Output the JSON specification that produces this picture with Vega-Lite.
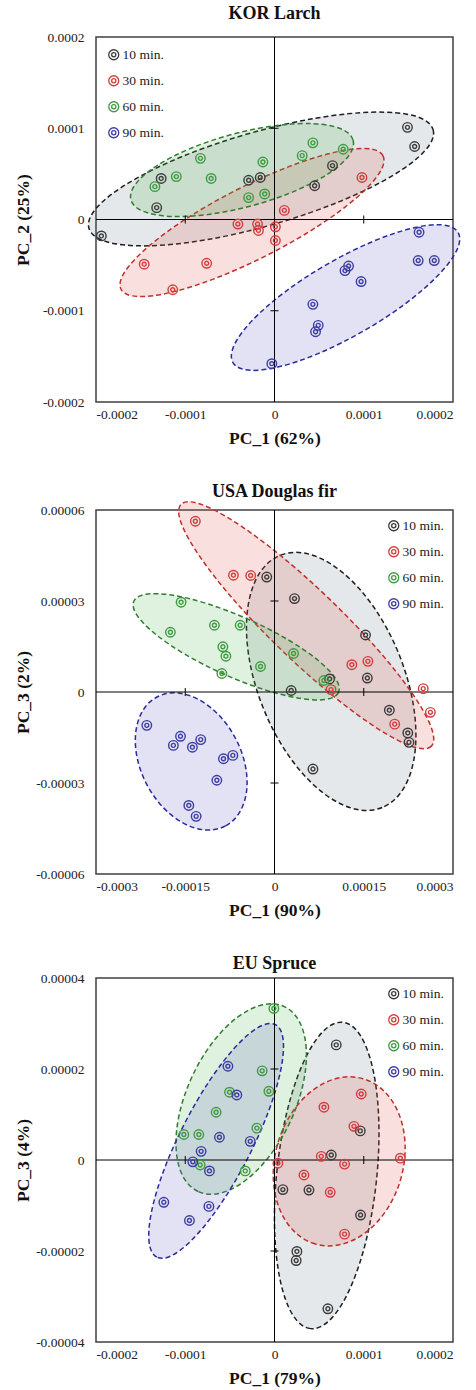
{
"$schema": "https://vega.github.io/schema/vega-lite/v6.json",
"background": "white",
"padding": {"left": 13, "top": 4, "right": 0, "bottom": 0},
"spacing": 34,
"resolve": {"scale": {"x": "independent", "y": "independent", "color": "independent"}, "legend": {"color": "independent"}},
"config": {
  "view": {"stroke": "#404040", "strokeWidth": 1.5},
  "title": {"font": "Liberation Serif", "fontSize": 18, "fontWeight": "bold", "color": "#111", "offset": -2, "anchor": "middle"},
  "axis": {"grid": false, "ticks": false, "domain": false, "labelFont": "Liberation Serif", "labelFontSize": 13.5, "labelColor": "#222", "titleFont": "Liberation Serif", "titleFontSize": 17.5, "titleFontWeight": "bold", "titleColor": "#111"},
  "axisX": {"labelPadding": 5, "titlePadding": 9},
  "axisY": {"labelPadding": 12, "titlePadding": 4, "minExtent": 60, "maxExtent": 60},
  "legend": {"labelFont": "Liberation Serif", "labelFontSize": 13.5, "labelColor": "#222", "rowPadding": 10, "labelOffset": 2, "padding": 0, "symbolSize": 100, "symbolStrokeWidth": 1.3}
},
"vconcat": [
{
  "title": {"text": "KOR Larch", "offset": 7},
  "width": 357, "height": 365,
  "layer": [
    {"data": {"values": [{"x": -0.0000151, "y": 0.0000444}]},
     "mark": {"type": "point", "shape": "M1,0C1,0.145 0.552,0.2626 0,0.2626C-0.552,0.2626 -1,0.145 -1,0C-1,-0.145 -0.552,-0.2626 0,-0.2626C0.552,-0.2626 1,-0.145 1,0Z", "size": 128164, "angle": 344, "filled": true, "fill": "#5d6d7e", "fillOpacity": 0.16, "stroke": "#1f1f1f", "strokeWidth": 1.5, "strokeDash": [5, 3], "opacity": 1},
     "encoding": {"x": {"field": "x", "type": "quantitative", "scale": {"domain": [-0.0002, 0.0002], "nice": false, "zero": false}}, "y": {"field": "y", "type": "quantitative", "scale": {"domain": [-0.0002, 0.0002], "nice": false, "zero": false}}}},
    {"data": {"values": [{"x": -0.0000252, "y": -0.0000033}]},
     "mark": {"type": "point", "shape": "M1,0C1,0.1353 0.552,0.2449 0,0.2449C-0.552,0.2449 -1,0.1353 -1,0C-1,-0.1353 -0.552,-0.2449 0,-0.2449C0.552,-0.2449 1,-0.1353 1,0Z", "size": 86436, "angle": 333, "filled": true, "fill": "#e0524f", "fillOpacity": 0.18, "stroke": "#c0302a", "strokeWidth": 1.5, "strokeDash": [5, 3], "opacity": 1},
     "encoding": {"x": {"field": "x", "type": "quantitative", "scale": {"domain": [-0.0002, 0.0002], "nice": false, "zero": false}}, "y": {"field": "y", "type": "quantitative", "scale": {"domain": [-0.0002, 0.0002], "nice": false, "zero": false}}}},
    {"data": {"values": [{"x": -0.0000364, "y": 0.0000542}]},
     "mark": {"type": "point", "shape": "M1,0C1,0.1777 0.552,0.3217 0,0.3217C-0.552,0.3217 -1,0.1777 -1,0C-1,-0.1777 -0.552,-0.3217 0,-0.3217C0.552,-0.3217 1,-0.1777 1,0Z", "size": 52900, "angle": 345, "filled": true, "fill": "#4caf50", "fillOpacity": 0.18, "stroke": "#2f7f2f", "strokeWidth": 1.5, "strokeDash": [5, 3], "opacity": 1},
     "encoding": {"x": {"field": "x", "type": "quantitative", "scale": {"domain": [-0.0002, 0.0002], "nice": false, "zero": false}}, "y": {"field": "y", "type": "quantitative", "scale": {"domain": [-0.0002, 0.0002], "nice": false, "zero": false}}}},
    {"data": {"values": [{"x": 0.0000796, "y": -0.0000855}]},
     "mark": {"type": "point", "shape": "M1,0C1,0.1614 0.552,0.2923 0,0.2923C-0.552,0.2923 -1,0.1614 -1,0C-1,-0.1614 -0.552,-0.2923 0,-0.2923C0.552,-0.2923 1,-0.1614 1,0Z", "size": 67600, "angle": 330, "filled": true, "fill": "#5c5cc0", "fillOpacity": 0.18, "stroke": "#2b2b9b", "strokeWidth": 1.5, "strokeDash": [5, 3], "opacity": 1},
     "encoding": {"x": {"field": "x", "type": "quantitative", "scale": {"domain": [-0.0002, 0.0002], "nice": false, "zero": false}}, "y": {"field": "y", "type": "quantitative", "scale": {"domain": [-0.0002, 0.0002], "nice": false, "zero": false}}}},
    {"data": {"values": [{"x": 0, "y": 0}]}, "mark": {"type": "rule", "color": "#000", "strokeWidth": 1},
     "encoding": {"x": {"field": "x", "type": "quantitative", "scale": {"domain": [-0.0002, 0.0002], "nice": false, "zero": false}}}},
    {"data": {"values": [{"x": 0, "y": 0}]}, "mark": {"type": "rule", "color": "#000", "strokeWidth": 1},
     "encoding": {"y": {"field": "y", "type": "quantitative", "scale": {"domain": [-0.0002, 0.0002], "nice": false, "zero": false}}}},
    {"data": {"values": [{"x": -0.0001, "y": 0}, {"x": 0.0001, "y": 0}]},
     "mark": {"type": "point", "shape": "M0,-1L0,1", "size": 64, "filled": false, "stroke": "#000", "strokeWidth": 1, "opacity": 1},
     "encoding": {"x": {"field": "x", "type": "quantitative", "scale": {"domain": [-0.0002, 0.0002], "nice": false, "zero": false}}, "y": {"field": "y", "type": "quantitative", "scale": {"domain": [-0.0002, 0.0002], "nice": false, "zero": false}}}},
    {"data": {"values": [{"x": 0, "y": -0.0001}, {"x": 0, "y": 0.0001}]},
     "mark": {"type": "point", "shape": "M-1,0L1,0", "size": 64, "filled": false, "stroke": "#000", "strokeWidth": 1, "opacity": 1},
     "encoding": {"x": {"field": "x", "type": "quantitative", "scale": {"domain": [-0.0002, 0.0002], "nice": false, "zero": false}}, "y": {"field": "y", "type": "quantitative", "scale": {"domain": [-0.0002, 0.0002], "nice": false, "zero": false}}}},
    {"data": {"values": [
      {"t": "10 min.", "x": -0.000194, "y": -0.000018}, {"t": "10 min.", "x": -0.000127, "y": 0.000045}, {"t": "10 min.", "x": -0.000132, "y": 0.000013}, {"t": "10 min.", "x": -0.000029, "y": 0.000043}, {"t": "10 min.", "x": -0.000016, "y": 0.000046}, {"t": "10 min.", "x": 0.000065, "y": 0.000059}, {"t": "10 min.", "x": 0.000045, "y": 0.000037}, {"t": "10 min.", "x": 0.000149, "y": 0.000101}, {"t": "10 min.", "x": 0.000157, "y": 0.00008},
      {"t": "30 min.", "x": -0.000041, "y": -0.000005}, {"t": "30 min.", "x": -0.000019, "y": -0.000005}, {"t": "30 min.", "x": -0.000018, "y": -0.000012}, {"t": "30 min.", "x": -0.000146, "y": -0.000049}, {"t": "30 min.", "x": -0.000076, "y": -0.000048}, {"t": "30 min.", "x": -0.000114, "y": -0.000077}, {"t": "30 min.", "x": 0.000001, "y": -0.000008}, {"t": "30 min.", "x": 0.000001, "y": -0.000023}, {"t": "30 min.", "x": 0.000011, "y": 0.00001}, {"t": "30 min.", "x": 0.000098, "y": 0.000046},
      {"t": "60 min.", "x": -0.000134, "y": 0.000036}, {"t": "60 min.", "x": -0.00011, "y": 0.000047}, {"t": "60 min.", "x": -0.000083, "y": 0.000067}, {"t": "60 min.", "x": -0.000071, "y": 0.000045}, {"t": "60 min.", "x": -0.000013, "y": 0.000063}, {"t": "60 min.", "x": -0.000029, "y": 0.000024}, {"t": "60 min.", "x": -0.000011, "y": 0.000028}, {"t": "60 min.", "x": 0.000043, "y": 0.000084}, {"t": "60 min.", "x": 0.000031, "y": 0.00007}, {"t": "60 min.", "x": 0.000077, "y": 0.000077},
      {"t": "90 min.", "x": 0.000162, "y": -0.000014}, {"t": "90 min.", "x": 0.000161, "y": -0.000045}, {"t": "90 min.", "x": 0.000179, "y": -0.000045}, {"t": "90 min.", "x": 0.000083, "y": -0.000051}, {"t": "90 min.", "x": 0.000079, "y": -0.000056}, {"t": "90 min.", "x": 0.000097, "y": -0.000068}, {"t": "90 min.", "x": 0.000043, "y": -0.000093}, {"t": "90 min.", "x": 0.000049, "y": -0.000116}, {"t": "90 min.", "x": 0.000046, "y": -0.000123}, {"t": "90 min.", "x": -0.000003, "y": -0.000158}
     ]},
     "mark": {"type": "point", "shape": "M1,0C1,0.552 0.552,1 0,1C-0.552,1 -1,0.552 -1,0C-1,-0.552 -0.552,-1 0,-1C0.552,-1 1,-0.552 1,0ZM0.42,0C0.42,0.232 0.232,0.42 0,0.42C-0.232,0.42 -0.42,0.232 -0.42,0C-0.42,-0.232 -0.232,-0.42 0,-0.42C0.232,-0.42 0.42,-0.232 0.42,0Z", "size": 90, "filled": false, "strokeWidth": 1.4, "opacity": 1},
     "encoding": {
       "x": {"field": "x", "type": "quantitative", "scale": {"domain": [-0.0002, 0.0002], "nice": false, "zero": false}, "axis": {"title": "PC_1 (62%)", "values": [-0.0002, -0.0001, 0, 0.0001, 0.0002], "labelExpr": "datum.value == 0 ? '0' : replace(format(datum.value, '~g'), '\u2212', '-')"}},
       "y": {"field": "y", "type": "quantitative", "scale": {"domain": [-0.0002, 0.0002], "nice": false, "zero": false}, "axis": {"title": "PC_2 (25%)", "values": [-0.0002, -0.0001, 0, 0.0001, 0.0002], "labelExpr": "datum.value == 0 ? '0' : replace(format(datum.value, '~g'), '\u2212', '-')"}},
       "color": {"field": "t", "type": "nominal", "scale": {"domain": ["10 min.", "30 min.", "60 min.", "90 min."], "range": ["#3b3b3b", "#d23c3c", "#3f9a3f", "#3b3ba3"]}, "legend": {"title": null, "orient": "top-left", "offset": 11, "symbolType": "M1,0C1,0.552 0.552,1 0,1C-0.552,1 -1,0.552 -1,0C-1,-0.552 -0.552,-1 0,-1C0.552,-1 1,-0.552 1,0ZM0.42,0C0.42,0.232 0.232,0.42 0,0.42C-0.232,0.42 -0.42,0.232 -0.42,0C-0.42,-0.232 -0.232,-0.42 0,-0.42C0.232,-0.42 0.42,-0.232 0.42,0Z"}}
     }}
  ]
},
{
  "title": {"text": "USA Douglas fir", "offset": -2},
  "width": 357, "height": 364,
  "layer": [
    {"data": {"values": [{"x": 0.0000953, "y": 0.0000035}]},
     "mark": {"type": "point", "shape": "M1,0C1,0.2965 0.552,0.5368 0,0.5368C-0.552,0.5368 -1,0.2965 -1,0C-1,-0.2965 -0.552,-0.5368 0,-0.5368C0.552,-0.5368 1,-0.2965 1,0Z", "size": 73984, "angle": 68, "filled": true, "fill": "#5d6d7e", "fillOpacity": 0.16, "stroke": "#1f1f1f", "strokeWidth": 1.5, "strokeDash": [5, 3], "opacity": 1},
     "encoding": {"x": {"field": "x", "type": "quantitative", "scale": {"domain": [-0.0003, 0.0003], "nice": false, "zero": false}}, "y": {"field": "y", "type": "quantitative", "scale": {"domain": [-0.00006, 0.00006], "nice": false, "zero": false}}}},
    {"data": {"values": [{"x": 0.0000533, "y": 0.000022}]},
     "mark": {"type": "point", "shape": "M1,0C1,0.1111 0.552,0.2011 0,0.2011C-0.552,0.2011 -1,0.1111 -1,0C-1,-0.1111 -0.552,-0.2011 0,-0.2011C0.552,-0.2011 1,-0.1111 1,0Z", "size": 121104, "angle": 44, "filled": true, "fill": "#e0524f", "fillOpacity": 0.18, "stroke": "#c0302a", "strokeWidth": 1.5, "strokeDash": [5, 3], "opacity": 1},
     "encoding": {"x": {"field": "x", "type": "quantitative", "scale": {"domain": [-0.0003, 0.0003], "nice": false, "zero": false}}, "y": {"field": "y", "type": "quantitative", "scale": {"domain": [-0.00006, 0.00006], "nice": false, "zero": false}}}},
    {"data": {"values": [{"x": -0.0000644, "y": 0.0000149}]},
     "mark": {"type": "point", "shape": "M1,0C1,0.148 0.552,0.2679 0,0.2679C-0.552,0.2679 -1,0.148 -1,0C-1,-0.148 -0.552,-0.2679 0,-0.2679C0.552,-0.2679 1,-0.148 1,0Z", "size": 50176, "angle": 24, "filled": true, "fill": "#4caf50", "fillOpacity": 0.18, "stroke": "#2f7f2f", "strokeWidth": 1.5, "strokeDash": [5, 3], "opacity": 1},
     "encoding": {"x": {"field": "x", "type": "quantitative", "scale": {"domain": [-0.0003, 0.0003], "nice": false, "zero": false}}, "y": {"field": "y", "type": "quantitative", "scale": {"domain": [-0.00006, 0.00006], "nice": false, "zero": false}}}},
    {"data": {"values": [{"x": -0.00014, "y": -0.0000229}]},
     "mark": {"type": "point", "shape": "M1,0C1,0.3783 0.552,0.6849 0,0.6849C-0.552,0.6849 -1,0.3783 -1,0C-1,-0.3783 -0.552,-0.6849 0,-0.6849C0.552,-0.6849 1,-0.3783 1,0Z", "size": 21316, "angle": 62, "filled": true, "fill": "#5c5cc0", "fillOpacity": 0.18, "stroke": "#2b2b9b", "strokeWidth": 1.5, "strokeDash": [5, 3], "opacity": 1},
     "encoding": {"x": {"field": "x", "type": "quantitative", "scale": {"domain": [-0.0003, 0.0003], "nice": false, "zero": false}}, "y": {"field": "y", "type": "quantitative", "scale": {"domain": [-0.00006, 0.00006], "nice": false, "zero": false}}}},
    {"data": {"values": [{"x": 0, "y": 0}]}, "mark": {"type": "rule", "color": "#000", "strokeWidth": 1},
     "encoding": {"x": {"field": "x", "type": "quantitative", "scale": {"domain": [-0.0003, 0.0003], "nice": false, "zero": false}}}},
    {"data": {"values": [{"x": 0, "y": 0}]}, "mark": {"type": "rule", "color": "#000", "strokeWidth": 1},
     "encoding": {"y": {"field": "y", "type": "quantitative", "scale": {"domain": [-0.00006, 0.00006], "nice": false, "zero": false}}}},
    {"data": {"values": [{"x": -0.00015, "y": 0}, {"x": 0.00015, "y": 0}]},
     "mark": {"type": "point", "shape": "M0,-1L0,1", "size": 64, "filled": false, "stroke": "#000", "strokeWidth": 1, "opacity": 1},
     "encoding": {"x": {"field": "x", "type": "quantitative", "scale": {"domain": [-0.0003, 0.0003], "nice": false, "zero": false}}, "y": {"field": "y", "type": "quantitative", "scale": {"domain": [-0.00006, 0.00006], "nice": false, "zero": false}}}},
    {"data": {"values": [{"x": 0, "y": -0.00003}, {"x": 0, "y": 0.00003}]},
     "mark": {"type": "point", "shape": "M-1,0L1,0", "size": 64, "filled": false, "stroke": "#000", "strokeWidth": 1, "opacity": 1},
     "encoding": {"x": {"field": "x", "type": "quantitative", "scale": {"domain": [-0.0003, 0.0003], "nice": false, "zero": false}}, "y": {"field": "y", "type": "quantitative", "scale": {"domain": [-0.00006, 0.00006], "nice": false, "zero": false}}}},
    {"data": {"values": [
      {"t": "10 min.", "x": -0.000013, "y": 0.0000379}, {"t": "10 min.", "x": 0.0000336, "y": 0.0000308}, {"t": "10 min.", "x": 0.000153, "y": 0.0000188}, {"t": "10 min.", "x": 0.000156, "y": 0.0000046}, {"t": "10 min.", "x": 0.0000925, "y": 0.0000043}, {"t": "10 min.", "x": 0.000028, "y": 0.0000005}, {"t": "10 min.", "x": 0.000193, "y": -0.000006}, {"t": "10 min.", "x": 0.000224, "y": -0.0000135}, {"t": "10 min.", "x": 0.000226, "y": -0.0000166}, {"t": "10 min.", "x": 0.0000646, "y": -0.0000254},
      {"t": "30 min.", "x": -0.000133, "y": 0.0000563}, {"t": "30 min.", "x": -0.000069, "y": 0.0000385}, {"t": "30 min.", "x": -0.00004, "y": 0.0000384}, {"t": "30 min.", "x": 0.00013, "y": 0.000009}, {"t": "30 min.", "x": 0.000157, "y": 0.0000101}, {"t": "30 min.", "x": 0.000095, "y": 0.0000008}, {"t": "30 min.", "x": 0.00025, "y": 0.0000011}, {"t": "30 min.", "x": 0.000262, "y": -0.0000067}, {"t": "30 min.", "x": 0.000202, "y": -0.0000106},
      {"t": "60 min.", "x": -0.000157, "y": 0.0000296}, {"t": "60 min.", "x": -0.000175, "y": 0.0000197}, {"t": "60 min.", "x": -0.000101, "y": 0.000022}, {"t": "60 min.", "x": -0.0000577, "y": 0.000022}, {"t": "60 min.", "x": -0.0000868, "y": 0.0000149}, {"t": "60 min.", "x": -0.0000817, "y": 0.0000118}, {"t": "60 min.", "x": -0.0000885, "y": 0.0000061}, {"t": "60 min.", "x": -0.0000235, "y": 0.0000084}, {"t": "60 min.", "x": 0.000032, "y": 0.0000127}, {"t": "60 min.", "x": 0.000083, "y": 0.0000038},
      {"t": "90 min.", "x": -0.0002146, "y": -0.000011}, {"t": "90 min.", "x": -0.00017, "y": -0.0000176}, {"t": "90 min.", "x": -0.000158, "y": -0.0000146}, {"t": "90 min.", "x": -0.000138, "y": -0.0000182}, {"t": "90 min.", "x": -0.000124, "y": -0.0000157}, {"t": "90 min.", "x": -0.0000858, "y": -0.000022}, {"t": "90 min.", "x": -0.00007, "y": -0.0000209}, {"t": "90 min.", "x": -0.0000969, "y": -0.0000291}, {"t": "90 min.", "x": -0.000144, "y": -0.0000374}, {"t": "90 min.", "x": -0.0001317, "y": -0.000041}
     ]},
     "mark": {"type": "point", "shape": "M1,0C1,0.552 0.552,1 0,1C-0.552,1 -1,0.552 -1,0C-1,-0.552 -0.552,-1 0,-1C0.552,-1 1,-0.552 1,0ZM0.42,0C0.42,0.232 0.232,0.42 0,0.42C-0.232,0.42 -0.42,0.232 -0.42,0C-0.42,-0.232 -0.232,-0.42 0,-0.42C0.232,-0.42 0.42,-0.232 0.42,0Z", "size": 90, "filled": false, "strokeWidth": 1.4, "opacity": 1},
     "encoding": {
       "x": {"field": "x", "type": "quantitative", "scale": {"domain": [-0.0003, 0.0003], "nice": false, "zero": false}, "axis": {"title": "PC_1 (90%)", "values": [-0.0003, -0.00015, 0, 0.00015, 0.0003], "labelExpr": "datum.value == 0 ? '0' : replace(format(datum.value, '~g'), '\u2212', '-')"}},
       "y": {"field": "y", "type": "quantitative", "scale": {"domain": [-0.00006, 0.00006], "nice": false, "zero": false}, "axis": {"title": "PC_3 (2%)", "values": [-0.00006, -0.00003, 0, 0.00003, 0.00006], "labelExpr": "datum.value == 0 ? '0' : replace(format(datum.value, '~g'), '\u2212', '-')"}},
       "color": {"field": "t", "type": "nominal", "scale": {"domain": ["10 min.", "30 min.", "60 min.", "90 min."], "range": ["#3b3b3b", "#d23c3c", "#3f9a3f", "#3b3ba3"]}, "legend": {"title": null, "orient": "top-right", "offset": 9, "symbolType": "M1,0C1,0.552 0.552,1 0,1C-0.552,1 -1,0.552 -1,0C-1,-0.552 -0.552,-1 0,-1C0.552,-1 1,-0.552 1,0ZM0.42,0C0.42,0.232 0.232,0.42 0,0.42C-0.232,0.42 -0.42,0.232 -0.42,0C-0.42,-0.232 -0.232,-0.42 0,-0.42C0.232,-0.42 0.42,-0.232 0.42,0Z"}}
     }}
  ]
},
{
  "title": {"text": "EU Spruce", "offset": -2},
  "width": 357, "height": 364,
  "layer": [
    {"data": {"values": [{"x": 0.0000585, "y": -0.0000034}]},
     "mark": {"type": "point", "shape": "M1,0C1,0.1793 0.552,0.3247 0,0.3247C-0.552,0.3247 -1,0.1793 -1,0C-1,-0.1793 -0.552,-0.3247 0,-0.3247C0.552,-0.3247 1,-0.1793 1,0Z", "size": 94864, "angle": 96, "filled": true, "fill": "#5d6d7e", "fillOpacity": 0.16, "stroke": "#1f1f1f", "strokeWidth": 1.5, "strokeDash": [5, 3], "opacity": 1},
     "encoding": {"x": {"field": "x", "type": "quantitative", "scale": {"domain": [-0.0002, 0.0002], "nice": false, "zero": false}}, "y": {"field": "y", "type": "quantitative", "scale": {"domain": [-0.00004, 0.00004], "nice": false, "zero": false}}}},
    {"data": {"values": [{"x": 0.0000725, "y": -0.0000003}]},
     "mark": {"type": "point", "shape": "M1,0C1,0.411 0.552,0.7442 0,0.7442C-0.552,0.7442 -1,0.411 -1,0C-1,-0.411 -0.552,-0.7442 0,-0.7442C0.552,-0.7442 1,-0.411 1,0Z", "size": 29584, "angle": 106, "filled": true, "fill": "#e0524f", "fillOpacity": 0.18, "stroke": "#c0302a", "strokeWidth": 1.5, "strokeDash": [5, 3], "opacity": 1},
     "encoding": {"x": {"field": "x", "type": "quantitative", "scale": {"domain": [-0.0002, 0.0002], "nice": false, "zero": false}}, "y": {"field": "y", "type": "quantitative", "scale": {"domain": [-0.00004, 0.00004], "nice": false, "zero": false}}}},
    {"data": {"values": [{"x": -0.0000373, "y": 0.0000134}]},
     "mark": {"type": "point", "shape": "M1,0C1,0.2924 0.552,0.5294 0,0.5294C-0.552,0.5294 -1,0.2924 -1,0C-1,-0.2924 -0.552,-0.5294 0,-0.5294C0.552,-0.5294 1,-0.2924 1,0Z", "size": 41616, "angle": 115, "filled": true, "fill": "#4caf50", "fillOpacity": 0.18, "stroke": "#2f7f2f", "strokeWidth": 1.5, "strokeDash": [5, 3], "opacity": 1},
     "encoding": {"x": {"field": "x", "type": "quantitative", "scale": {"domain": [-0.0002, 0.0002], "nice": false, "zero": false}}, "y": {"field": "y", "type": "quantitative", "scale": {"domain": [-0.00004, 0.00004], "nice": false, "zero": false}}}},
    {"data": {"values": [{"x": -0.0000654, "y": 0.0000042}]},
     "mark": {"type": "point", "shape": "M1,0C1,0.1524 0.552,0.2759 0,0.2759C-0.552,0.2759 -1,0.1524 -1,0C-1,-0.1524 -0.552,-0.2759 0,-0.2759C0.552,-0.2759 1,-0.1524 1,0Z", "size": 68121, "angle": 117, "filled": true, "fill": "#5c5cc0", "fillOpacity": 0.18, "stroke": "#2b2b9b", "strokeWidth": 1.5, "strokeDash": [5, 3], "opacity": 1},
     "encoding": {"x": {"field": "x", "type": "quantitative", "scale": {"domain": [-0.0002, 0.0002], "nice": false, "zero": false}}, "y": {"field": "y", "type": "quantitative", "scale": {"domain": [-0.00004, 0.00004], "nice": false, "zero": false}}}},
    {"data": {"values": [{"x": 0, "y": 0}]}, "mark": {"type": "rule", "color": "#000", "strokeWidth": 1},
     "encoding": {"x": {"field": "x", "type": "quantitative", "scale": {"domain": [-0.0002, 0.0002], "nice": false, "zero": false}}}},
    {"data": {"values": [{"x": 0, "y": 0}]}, "mark": {"type": "rule", "color": "#000", "strokeWidth": 1},
     "encoding": {"y": {"field": "y", "type": "quantitative", "scale": {"domain": [-0.00004, 0.00004], "nice": false, "zero": false}}}},
    {"data": {"values": [{"x": -0.0001, "y": 0}, {"x": 0.0001, "y": 0}]},
     "mark": {"type": "point", "shape": "M0,-1L0,1", "size": 64, "filled": false, "stroke": "#000", "strokeWidth": 1, "opacity": 1},
     "encoding": {"x": {"field": "x", "type": "quantitative", "scale": {"domain": [-0.0002, 0.0002], "nice": false, "zero": false}}, "y": {"field": "y", "type": "quantitative", "scale": {"domain": [-0.00004, 0.00004], "nice": false, "zero": false}}}},
    {"data": {"values": [{"x": 0, "y": -0.00002}, {"x": 0, "y": 0.00002}]},
     "mark": {"type": "point", "shape": "M-1,0L1,0", "size": 64, "filled": false, "stroke": "#000", "strokeWidth": 1, "opacity": 1},
     "encoding": {"x": {"field": "x", "type": "quantitative", "scale": {"domain": [-0.0002, 0.0002], "nice": false, "zero": false}}, "y": {"field": "y", "type": "quantitative", "scale": {"domain": [-0.00004, 0.00004], "nice": false, "zero": false}}}},
    {"data": {"values": [
      {"t": "10 min.", "x": 0.0000692, "y": 0.0000253}, {"t": "10 min.", "x": 0.0000961, "y": 0.0000064}, {"t": "10 min.", "x": 0.0000636, "y": 0.0000011}, {"t": "10 min.", "x": 0.0000094, "y": -0.0000065}, {"t": "10 min.", "x": 0.0000386, "y": -0.0000066}, {"t": "10 min.", "x": 0.0000964, "y": -0.0000121}, {"t": "10 min.", "x": 0.0000251, "y": -0.0000201}, {"t": "10 min.", "x": 0.0000243, "y": -0.0000221}, {"t": "10 min.", "x": 0.0000598, "y": -0.0000327},
      {"t": "30 min.", "x": 0.0000972, "y": 0.0000145}, {"t": "30 min.", "x": 0.0000554, "y": 0.0000116}, {"t": "30 min.", "x": 0.000089, "y": 0.0000074}, {"t": "30 min.", "x": 0.0000524, "y": 0.0000008}, {"t": "30 min.", "x": 0.0000785, "y": -0.0000009}, {"t": "30 min.", "x": 0.000141, "y": 0.0000004}, {"t": "30 min.", "x": 0.0000038, "y": -0.0000007}, {"t": "30 min.", "x": 0.000033, "y": -0.0000033}, {"t": "30 min.", "x": 0.0000624, "y": -0.0000071}, {"t": "30 min.", "x": 0.0000785, "y": -0.0000163},
      {"t": "60 min.", "x": -0.0000007, "y": 0.0000333}, {"t": "60 min.", "x": -0.0000138, "y": 0.0000196}, {"t": "60 min.", "x": -0.0000504, "y": 0.0000149}, {"t": "60 min.", "x": -0.0000063, "y": 0.0000151}, {"t": "60 min.", "x": -0.0000654, "y": 0.0000105}, {"t": "60 min.", "x": -0.0000197, "y": 0.000007}, {"t": "60 min.", "x": -0.0001016, "y": 0.0000056}, {"t": "60 min.", "x": -0.0000848, "y": 0.0000056}, {"t": "60 min.", "x": -0.0000833, "y": -0.0000011}, {"t": "60 min.", "x": -0.0000328, "y": -0.0000024},
      {"t": "90 min.", "x": -0.0000522, "y": 0.0000206}, {"t": "90 min.", "x": -0.0000422, "y": 0.0000143}, {"t": "90 min.", "x": -0.0000617, "y": 0.000005}, {"t": "90 min.", "x": -0.0000272, "y": 0.0000041}, {"t": "90 min.", "x": -0.0000822, "y": 0.0000019}, {"t": "90 min.", "x": -0.0000915, "y": -0.0000004}, {"t": "90 min.", "x": -0.0000729, "y": -0.0000024}, {"t": "90 min.", "x": -0.000124, "y": -0.0000093}, {"t": "90 min.", "x": -0.0000735, "y": -0.0000102}, {"t": "90 min.", "x": -0.0000953, "y": -0.0000133}
     ]},
     "mark": {"type": "point", "shape": "M1,0C1,0.552 0.552,1 0,1C-0.552,1 -1,0.552 -1,0C-1,-0.552 -0.552,-1 0,-1C0.552,-1 1,-0.552 1,0ZM0.42,0C0.42,0.232 0.232,0.42 0,0.42C-0.232,0.42 -0.42,0.232 -0.42,0C-0.42,-0.232 -0.232,-0.42 0,-0.42C0.232,-0.42 0.42,-0.232 0.42,0Z", "size": 90, "filled": false, "strokeWidth": 1.4, "opacity": 1},
     "encoding": {
       "x": {"field": "x", "type": "quantitative", "scale": {"domain": [-0.0002, 0.0002], "nice": false, "zero": false}, "axis": {"title": "PC_1 (79%)", "values": [-0.0002, -0.0001, 0, 0.0001, 0.0002], "labelExpr": "datum.value == 0 ? '0' : replace(format(datum.value, '~g'), '\u2212', '-')"}},
       "y": {"field": "y", "type": "quantitative", "scale": {"domain": [-0.00004, 0.00004], "nice": false, "zero": false}, "axis": {"title": "PC_3 (4%)", "values": [-0.00004, -0.00002, 0, 0.00002, 0.00004], "labelExpr": "datum.value == 0 ? '0' : replace(format(datum.value, '~g'), '\u2212', '-')"}},
       "color": {"field": "t", "type": "nominal", "scale": {"domain": ["10 min.", "30 min.", "60 min.", "90 min."], "range": ["#3b3b3b", "#d23c3c", "#3f9a3f", "#3b3ba3"]}, "legend": {"title": null, "orient": "top-right", "offset": 9, "symbolType": "M1,0C1,0.552 0.552,1 0,1C-0.552,1 -1,0.552 -1,0C-1,-0.552 -0.552,-1 0,-1C0.552,-1 1,-0.552 1,0ZM0.42,0C0.42,0.232 0.232,0.42 0,0.42C-0.232,0.42 -0.42,0.232 -0.42,0C-0.42,-0.232 -0.232,-0.42 0,-0.42C0.232,-0.42 0.42,-0.232 0.42,0Z"}}
     }}
  ]
}
]
}
